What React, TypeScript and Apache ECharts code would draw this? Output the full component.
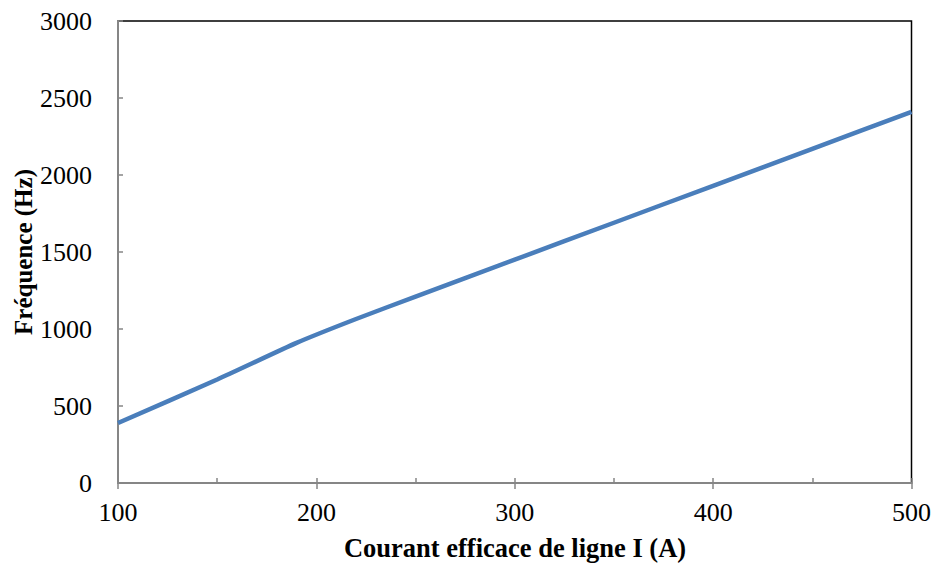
import React, { useEffect, useRef } from "react";
import * as echarts from "echarts";

const current = [100, 150, 190, 220, 250, 300, 350, 400, 450, 500];
const frequency = [390, 672, 910, 1065, 1210, 1450, 1690, 1930, 2170, 2410];
const xTitle = "Courant efficace de ligne I (A)";
const yTitle = "Fréquence (Hz)";

const FONT = "Liberation Serif";
const GRAY = "#868686";

export default function App() {
  const ref = useRef<HTMLDivElement>(null);
  useEffect(() => {
    const chart = echarts.init(ref.current!, undefined, { renderer: "svg" });
    chart.setOption({
      animation: false,
      backgroundColor: "#fff",
      grid: {
        left: 118,
        right: 21,
        top: 21,
        bottom: 82,
        show: true,
        borderColor: "#000",
        borderWidth: 1.5,
        backgroundColor: "transparent",
      },
      xAxis: [
        {
          type: "value",
          min: 100,
          max: 500,
          interval: 100,
          position: "bottom",
          axisLine: { show: true, lineStyle: { color: GRAY, width: 2 } },
          axisTick: { show: true, inside: false, length: 6, lineStyle: { color: GRAY, width: 1.5 } },
          axisLabel: {
            color: "#000",
            fontFamily: FONT,
            fontSize: 26,
            margin: 16,
            formatter: (v: number) => String(v),
          },
          splitLine: { show: false },
        },
        {
          type: "value",
          min: 100,
          max: 500,
          interval: 50,
          position: "bottom",
          axisLine: { show: false },
          axisTick: { show: true, inside: true, length: 5, lineStyle: { color: GRAY, width: 1.5 } },
          axisLabel: { show: false },
          splitLine: { show: false },
        },
      ],
      yAxis: {
        type: "value",
        min: 0,
        max: 3000,
        interval: 500,
        axisLine: { show: true, lineStyle: { color: GRAY, width: 2 } },
        axisTick: { show: true, inside: true, length: 5, lineStyle: { color: GRAY, width: 1.5 } },
        axisLabel: {
          color: "#000",
          fontFamily: FONT,
          fontSize: 26,
          margin: 26,
          formatter: (v: number) => String(v),
        },
        splitLine: { show: false },
      },
      series: [
        {
          type: "line",
          xAxisIndex: 0,
          data: current.map((c, i) => [c, frequency[i]]),
          showSymbol: false,
          smooth: 0.2,
          lineStyle: { color: "#4a7ebb", width: 4.5 },
        },
      ],
      graphic: [
        {
          type: "text",
          x: 515,
          y: 548,
          style: {
            text: xTitle,
            fontFamily: FONT,
            fontWeight: "bold",
            fontSize: 26.5,
            fill: "#000",
            textAlign: "center",
            textVerticalAlign: "middle",
          },
        },
        {
          type: "text",
          x: 23,
          y: 252,
          rotation: Math.PI / 2,
          style: {
            text: yTitle,
            fontFamily: FONT,
            fontWeight: "bold",
            fontSize: 25,
            fill: "#000",
            textAlign: "center",
            textVerticalAlign: "middle",
          },
        },
      ],
    });
    return () => chart.dispose();
  }, []);
  return (
    <div
      ref={ref}
      style={{ position: "fixed", left: 0, top: 0, width: 934, height: 565 }}
    />
  );
}
